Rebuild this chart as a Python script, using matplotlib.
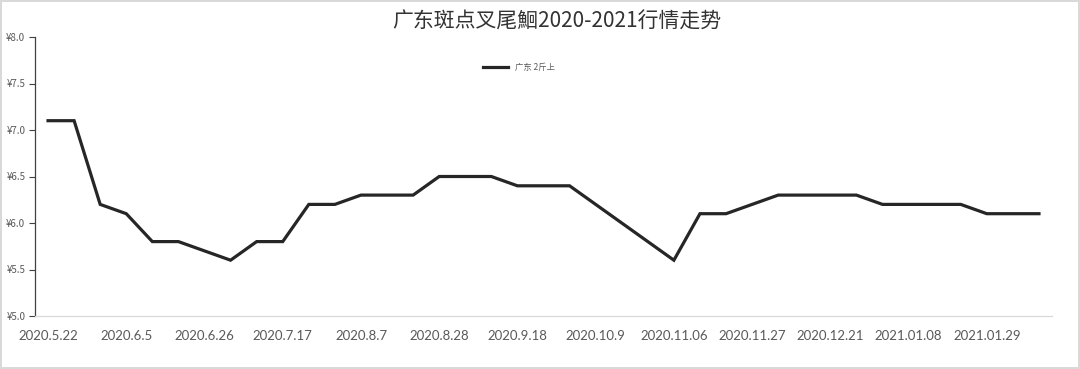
import matplotlib
matplotlib.use('Agg')
import matplotlib.pyplot as plt
from matplotlib.ticker import FuncFormatter, MultipleLocator

plt.rcParams['font.family'] = ['Noto Sans CJK SC', 'DejaVu Sans']

title = '广东斑点叉尾鮰2020-2021行情走势'
series_name = '广东 2斤上'
# weekly quotes, only every 3rd date is labelled on the axis
prices = [7.1, 7.1, 6.2, 6.1, 5.8, 5.8, 5.7, 5.6, 5.8, 5.8,
          6.2, 6.2, 6.3, 6.3, 6.3, 6.5, 6.5, 6.5, 6.4, 6.4,
          6.4, 6.2, 6.0, 5.8, 5.6, 6.1, 6.1, 6.2, 6.3, 6.3,
          6.3, 6.3, 6.2, 6.2, 6.2, 6.2, 6.1, 6.1, 6.1]
date_labels = ['2020.5.22', '2020.6.5', '2020.6.26', '2020.7.17', '2020.8.7',
               '2020.8.28', '2020.9.18', '2020.10.9', '2020.11.06', '2020.11.27',
               '2020.12.21', '2021.01.08', '2021.01.29']
label_step = 3

fig = plt.figure(figsize=(10.8, 3.69), dpi=100)
fig.patch.set_edgecolor('#d9d9d9')
fig.patch.set_linewidth(1.5)
ax = fig.add_axes([35/1080, 1-316/369, (1052-35)/1080, (316-37)/369])

x = list(range(len(prices)))
ax.plot(x, prices, color='#262626', lw=2.3, label=series_name, solid_joinstyle='miter')

ax.set_xlim(-0.5, len(prices) - 0.5)
ax.set_ylim(5.0, 8.0)
ax.yaxis.set_major_locator(MultipleLocator(0.5))
ax.yaxis.set_major_formatter(FuncFormatter(lambda v, p: f'¥{v:.1f}'))
ax.tick_params(axis='y', labelsize=7, labelcolor='#595959', length=4, width=0.8,
               color='#404040', direction='out', pad=3)

ax.set_xticks(x[::label_step])
ax.set_xticklabels(date_labels, fontsize=9.5, color='#595959', family=['Lato', 'DejaVu Sans'])
ax.tick_params(axis='x', length=0, pad=10)

for s in ['top', 'right']:
    ax.spines[s].set_visible(False)
ax.spines['left'].set_color('#404040')
ax.spines['left'].set_linewidth(0.9)
ax.spines['bottom'].set_color('#d9d9d9')
ax.spines['bottom'].set_linewidth(0.9)

fig.text(557/1080, 1-22/369, title, ha='center', va='center', fontsize=15,
         color='#333333', weight='medium')

ax.legend(loc='center', bbox_to_anchor=(0.476, 0.892), frameon=False, fontsize=6,
          handlelength=3, labelcolor='#595959')

fig.savefig('out.png', dpi=100)
